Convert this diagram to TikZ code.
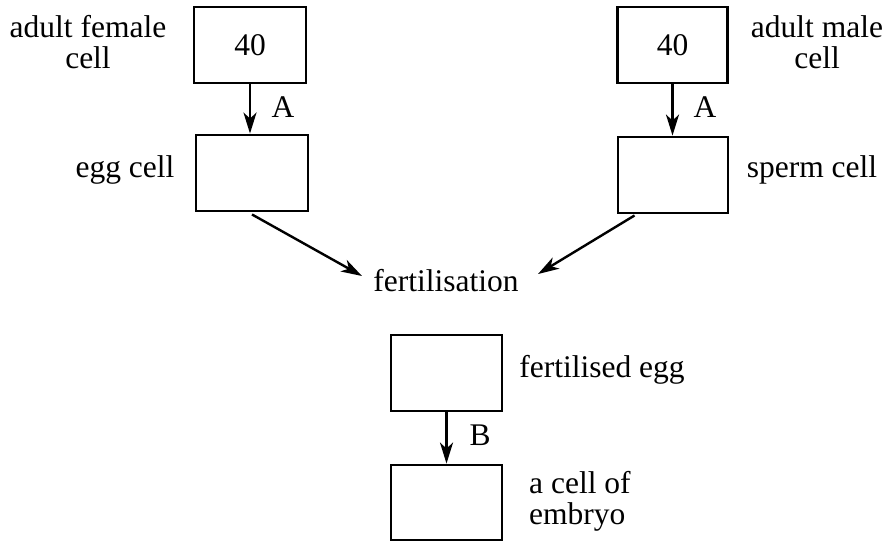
\documentclass[tikz,border=0pt]{standalone}
\usepackage{fontspec}
\setmainfont{Liberation Serif}
\usetikzlibrary{arrows.meta}
\begin{document}
\begin{tikzpicture}[x=1pt,y=-1pt,
  cellbox/.style={draw, line width=2.9pt, minimum width=112pt, minimum height=76pt, inner sep=0pt},
  lbl/.style={font=\fontsize{31.5}{31}\selectfont, inner sep=0pt},
  arr/.style={line width=2.4pt, -{Stealth[length=21pt,width=13pt,inset=6pt]}}]
\useasboundingbox (0,0) rectangle (888,542);
% boxes
\node[cellbox] (tl) at (250,45) {\fontsize{31.5}{31}\selectfont 40};
\node[cellbox] (egg) at (252,173) {};
\node[cellbox, minimum width=110pt] (tr) at (672.5,45) {\fontsize{31.5}{31}\selectfont 40};
\node[cellbox, minimum width=110pt] (sperm) at (673,175) {};
\node[cellbox, minimum width=111pt] (fegg) at (446.5,373) {};
\node[cellbox, minimum width=111pt, minimum height=75pt] (emb) at (446.5,502.5) {};
% labels
\node[lbl, align=center, anchor=base] (lfem) at (88,68) {adult female\\cell};
\node[lbl, anchor=base] (legg) at (125,177) {egg cell};
\node[lbl, align=center, anchor=base] (lmale) at (817,68) {adult male\\cell};
\node[lbl, anchor=base] (lsperm) at (812,177) {sperm cell};
\node[lbl, anchor=base] (fert) at (446,291) {fertilisation};
\node[lbl, anchor=base] (lfegg) at (602,377) {fertilised egg};
\node[lbl, align=left, anchor=base west] (lemb) at (529,524) {a cell of\\embryo};
\node[lbl, anchor=base] (la1) at (283,117) {A};
\node[lbl, anchor=base] (la2) at (705,117) {A};
\node[lbl, anchor=base] (lb) at (480,445) {B};
% connectors
\coordinate (fl) at ([xshift=-84pt,yshift=15pt]fert.base);
\coordinate (fr) at ([xshift=92pt,yshift=17pt]fert.base);
\draw[arr] (tl.south) -- (tl.south |- egg.north);
\draw[arr] (tr.south) -- (tr.south |- sperm.north);
\draw[arr] (fegg.south) -- (fegg.south |- emb.north);
\draw[arr] ([yshift=-2pt]egg.south) -- (fl);
\draw[arr] ([xshift=18pt,yshift=-1pt]sperm.south west) -- (fr);
\end{tikzpicture}
\end{document}
